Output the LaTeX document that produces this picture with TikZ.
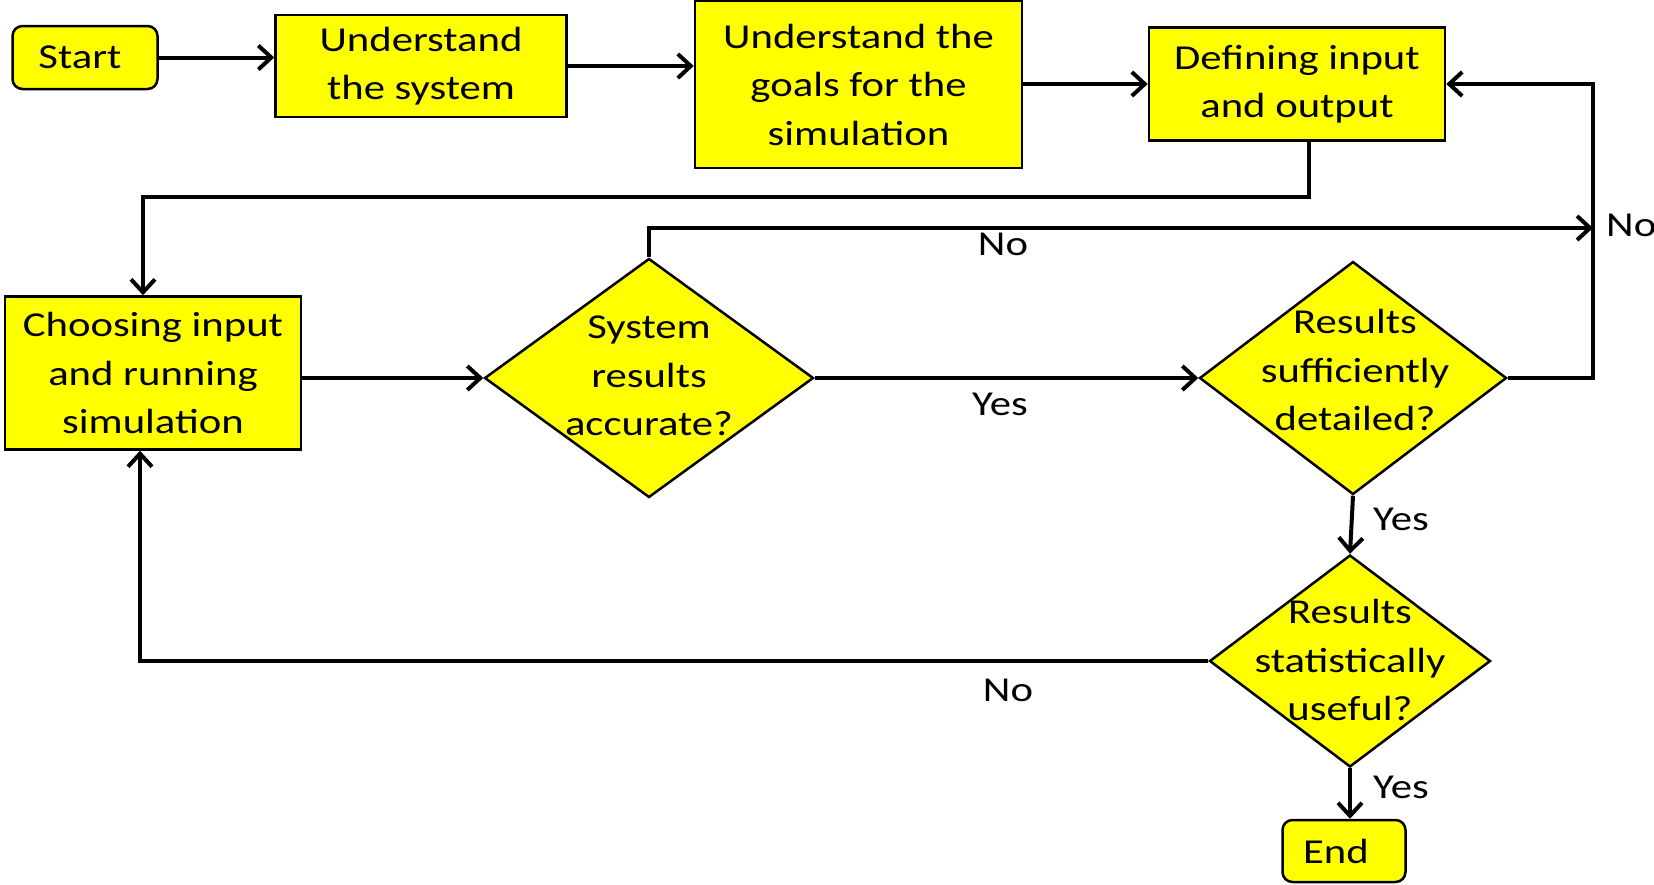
\documentclass[tikz,border=0pt]{standalone}
\usepackage{fontspec}
\setmainfont{Carlito}[FakeStretch=1.22]
\usetikzlibrary{shapes.geometric,arrows.meta}
\definecolor{boxyellow}{HTML}{FFFF00}
\begin{document}
\begin{tikzpicture}[x=1pt,y=-1pt,
  every node/.style={font=\fontsize{35}{48.5}\selectfont},
  box/.style={draw=black, line width=2.5pt, fill=boxyellow, align=center, inner sep=0pt},
  term/.style={draw=black, line width=2.5pt, fill=boxyellow, inner sep=0pt, rounded corners=10pt},
  decision/.style={diamond, draw=black, line width=2.5pt, fill=boxyellow, inner sep=0pt},
  lbl/.style={align=center, inner sep=0pt},
  arr/.style={line width=4pt, -{Straight Barb[length=13pt,width=24pt]}},
]
\useasboundingbox (0,0) rectangle (1654,884);

% process steps
\node[term, minimum width=145pt, minimum height=63pt] (start) at (85,57.5) {Start\kern10pt\relax};
\node[box, minimum width=291pt, minimum height=102pt] (us) at (421,66) {Understand\\the system};
\node[box, minimum width=327pt, minimum height=167pt] (goals) at (858.5,84.5) {Understand the\\goals for the\\simulation};
\node[box, minimum width=296pt, minimum height=113pt] (def) at (1297,84) {Defining input\\and output};
\node[box, minimum width=296pt, minimum height=153pt] (choose) at (153,373) {Choosing input\\and running\\simulation};

% decisions
\node[decision, minimum width=329pt, minimum height=239pt] (d1) at (649,378) {};
\node[lbl] (d1t) at (649,376) {System\\results\\accurate?};
\node[decision, minimum width=307pt, minimum height=233pt] (d2) at (1353,378) {};
\node[lbl] (d2t) at (1355,370) {Results\\sufficiently\\detailed?};
\node[decision, minimum width=281pt, minimum height=212pt] (d3) at (1350,661) {};
\node[lbl] (d3t) at (1350,660) {Results\\statistically\\useful?};
\node[term, minimum width=123pt, minimum height=62pt] (end) at (1344,851) {End\kern16pt\relax};

% branch labels
\node[lbl] (no1) at (1003,244) {No};
\node[lbl, anchor=west] (no2) at (1606,225) {No};
\node[lbl] (yes1) at (1000,404) {Yes};
\node[lbl, anchor=west] (yes2) at (1373,519) {Yes};
\node[lbl] (no3) at (1008,690) {No};
\node[lbl, anchor=west] (yes3) at (1373,787) {Yes};

% bend points
\coordinate (bendA) at (143,197);
\coordinate (merge) at (1593,228);
\coordinate (bendB) at (140,663);

% connectors
\draw[arr] (start.east) -- (start.east -| us.west);
\draw[arr] (us.east) -- (us.east -| goals.west);
\draw[arr] (def.west -| goals.east) -- (def.west);
\draw[arr] ([xshift=12pt]def.south) |- (bendA) -- (bendA |- choose.north);
\draw[arr] (d1.west -| choose.east) -- (d1.west);
\draw[arr] (d1.north) |- (merge);
\draw[arr] (d1.east) -- (d2.west);
\draw[arr] (d2.east) -| (def.east -| merge) -- (def.east);
\draw[arr] (d2.south) -- (d3.north);
\draw[arr] (d3.south) -- (d3.south |- end.north);
\draw[arr] (d3.west) -| (bendB |- choose.south);
\end{tikzpicture}
\end{document}
